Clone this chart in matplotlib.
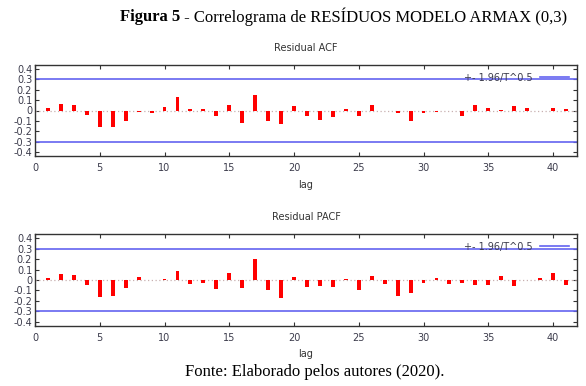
import numpy as np
import matplotlib.pyplot as plt

lags = np.arange(1, 42)
acf = [0.02, 0.06, 0.05, -0.04, -0.16, -0.16, -0.10, -0.01, -0.02, 0.035,
       0.135, 0.01, 0.015, -0.055, 0.05, -0.12, 0.15, -0.10, -0.13, 0.045,
       -0.055, -0.09, -0.065, 0.012, -0.05, 0.055, -0.007, -0.02, -0.105, -0.025,
       -0.01, -0.003, -0.05, 0.05, 0.025, 0.006, 0.045, 0.022, -0.004, 0.02,
       0.015]
pacf = [0.02, 0.06, 0.05, -0.05, -0.165, -0.155, -0.08, 0.03, -0.003, 0.012,
        0.085, -0.04, -0.03, -0.085, 0.065, -0.08, 0.205, -0.10, -0.175, 0.025,
        -0.065, -0.06, -0.065, 0.012, -0.10, 0.035, -0.04, -0.15, -0.12, -0.03,
        0.02, -0.04, -0.03, -0.05, -0.05, 0.04, -0.06, -0.003, 0.02, 0.065,
        -0.05]
band = 0.3
yticks = [0.4, 0.3, 0.2, 0.1, 0, -0.1, -0.2, -0.3, -0.4]
ytick_labels = ["0.4", "0.3", "0.2", "0.1", "0", "-0.1", "-0.2", "-0.3", "-0.4"]
xticks = [0, 5, 10, 15, 20, 25, 30, 35, 40]

W, H = 586, 386
fig = plt.figure(figsize=(W / 100, H / 100), dpi=100)
txt_col = "#3c3c4c"


def panel(top, bottom, values, title, title_y, lag_y):
    ax = fig.add_axes([35 / W, 1 - bottom / H, 542 / W, (bottom - top) / H])
    ax.bar(lags, values, width=0.3, color="red", zorder=3)
    ax.axhline(0, color="#c8b0b0", lw=0.9, ls=(0, (1, 2)), zorder=2)
    ax.axhline(band, color="#6464f0", lw=1.2, label="+- 1.96/T^0.5")
    ax.axhline(-band, color="#6464f0", lw=1.2)
    ax.set_xlim(0, 41.85)
    ax.set_ylim(-0.44, 0.44)
    ax.set_xticks(xticks)
    ax.set_yticks(yticks)
    ax.set_yticklabels(ytick_labels)
    ax.tick_params(direction="in", top=True, right=True, length=3, width=0.8,
                   labelsize=7, colors="#333333", labelcolor=txt_col, pad=2)
    ax.tick_params(axis="x", pad=5)
    for s in ax.spines.values():
        s.set_color("#333333")
        s.set_linewidth(1.0)
    ax.legend(loc="upper right", frameon=False, markerfirst=False, fontsize=7,
              handlelength=3.0, borderaxespad=0.6, borderpad=0.2,
              labelcolor=txt_col)
    fig.text(306 / W, 1 - title_y / H, title, ha="center", va="center",
             fontsize=7, color="#333333")
    fig.text(306 / W, 1 - lag_y / H, "lag", ha="center", va="center",
             fontsize=7, color="#333333")
    return ax


panel(65, 156, acf, "Residual ACF", 48, 185)
panel(234, 326, pacf, "Residual PACF", 217, 354)

# caption: bold "Figura 5" followed by regular text
fs = 12
bold = fig.text(120 / W, 1 - 17 / H, "Figura 5", ha="left", va="center",
                family="Liberation Serif", fontsize=fs, fontweight="bold")
fig.canvas.draw()
bb = bold.get_window_extent()
fig.text(bb.x1 / W, 1 - 17 / H, " - Correlograma de RESÍDUOS MODELO ARMAX (0,3)",
         ha="left", va="center", family="Liberation Serif", fontsize=fs)

fig.text(315 / W, 1 - 372 / H, "Fonte: Elaborado pelos autores (2020).",
         ha="center", va="center", family="Liberation Serif", fontsize=12)

fig.savefig("out.png", dpi=100)
